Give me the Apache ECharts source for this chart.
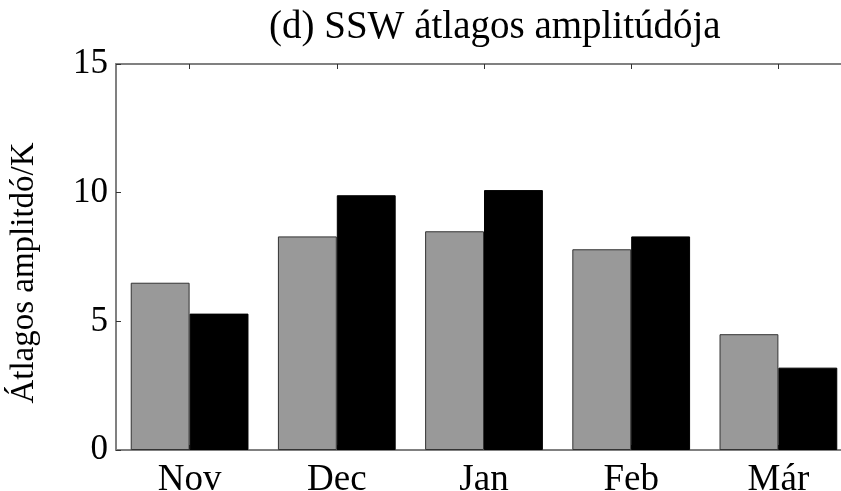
<!DOCTYPE html>
<html>
<head>
<meta charset="utf-8">
<script src="https://cdn.jsdelivr.net/npm/echarts@6/dist/echarts.min.js"></script>
<style>
  html, body { margin: 0; padding: 0; background: #fff; }
  #chart { width: 841px; height: 491px; }
</style>
</head>
<body>
<div id="chart"></div>
<script>
// Monthly categories and the two bar series (mean amplitude, K)
const months = ['Nov', 'Dec', 'Jan', 'Feb', 'Már'];
const seriesGray = [6.5, 8.3, 8.5, 7.8, 4.5];
const seriesBlack = [5.3, 9.9, 10.1, 8.3, 3.2];
const yTicks = [0, 5, 10, 15];

const FONT = '"Liberation Serif", "DejaVu Serif", serif';
const AXIS_COLOR = '#808080';

const chart = echarts.init(document.getElementById('chart'), null, { renderer: 'canvas' });

chart.setOption({
  animation: false,
  backgroundColor: '#ffffff',
  title: {
    text: '(d) SSW átlagos amplitúdója',
    left: 264,
    top: 3,
    textStyle: { fontFamily: FONT, fontSize: 39, fontWeight: 'normal', color: '#000' }
  },
  graphic: [{
    type: 'text',
    x: 24,
    y: 273,
    rotation: Math.PI / 2,
    style: {
      text: 'Átlagos amplitdó/K',
      fontFamily: FONT,
      fontSize: 33,
      fill: '#000',
      align: 'center',
      verticalAlign: 'middle'
    }
  }],
  // the plot box runs past the right edge of the canvas
  grid: { left: 116, top: 64, width: 736, height: 386, outerBoundsMode: 'none', containLabel: false },
  xAxis: [{
    type: 'category',
    data: months,
    position: 'bottom',
    axisLine: { lineStyle: { color: AXIS_COLOR, width: 2 } },
    axisTick: { show: true, inside: true, alignWithLabel: true, length: 5, lineStyle: { color: '#333' } },
    axisLabel: { fontFamily: FONT, fontSize: 37, color: '#000', margin: 12 }
  }, {
    type: 'category',
    data: months,
    position: 'top',
    axisLine: { show: true, lineStyle: { color: AXIS_COLOR, width: 2 } },
    axisTick: { show: true, inside: true, alignWithLabel: true, length: 5, lineStyle: { color: '#333' } },
    axisLabel: { show: false }
  }],
  yAxis: {
    type: 'value',
    min: yTicks[0],
    max: yTicks[yTicks.length - 1],
    interval: 5,
    axisLine: { show: true, lineStyle: { color: AXIS_COLOR, width: 2 } },
    axisTick: { show: true, inside: true, length: 5, lineStyle: { color: '#333' } },
    splitLine: { show: false },
    axisLabel: { fontFamily: FONT, fontSize: 35, color: '#000', margin: 8 }
  },
  series: [{
    name: 'Szürke',
    type: 'bar',
    data: seriesGray,
    barGap: '0%',
    barCategoryGap: '20%',
    itemStyle: { color: '#999999', borderColor: '#333333', borderWidth: 1 }
  }, {
    name: 'Fekete',
    type: 'bar',
    data: seriesBlack,
    barGap: '0%',
    barCategoryGap: '20%',
    itemStyle: { color: '#000000', borderColor: '#000000', borderWidth: 1 }
  }]
});
</script>
</body>
</html>
